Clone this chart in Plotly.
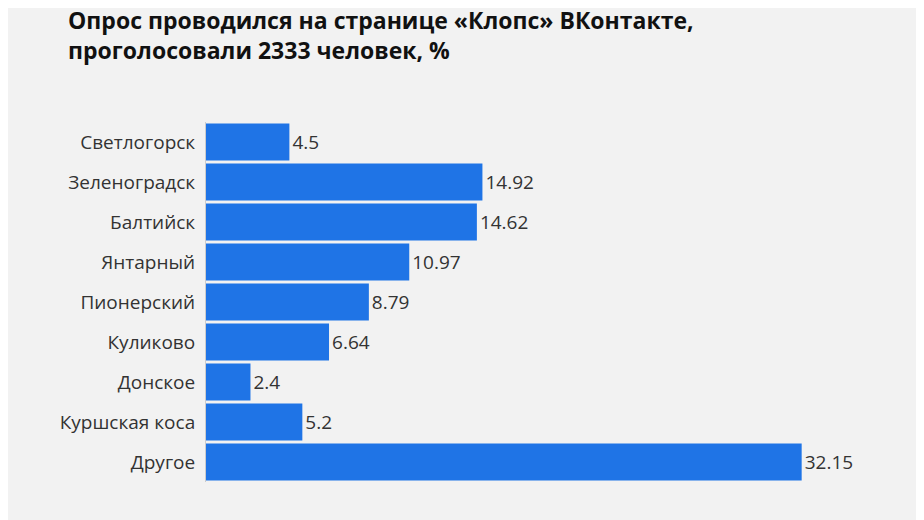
import plotly.graph_objects as go

categories = ["Светлогорск", "Зеленоградск", "Балтийск", "Янтарный", "Пионерский",
              "Куликово", "Донское", "Куршская коса", "Другое"]
values = [4.5, 14.92, 14.62, 10.97, 8.79, 6.64, 2.4, 5.2, 32.15]
labels = ["4.5", "14.92", "14.62", "10.97", "8.79", "6.64", "2.4", "5.2", "32.15"]

fig = go.Figure(go.Bar(
    x=values, y=categories, orientation="h",
    marker=dict(color="#1f74e6", line=dict(width=0)),
    text=labels, textposition="outside", cliponaxis=False,
    textfont=dict(size=19, color="#333333", family="Open Sans"),
))
fig.update_layout(
    width=924, height=520,
    paper_bgcolor="#f2f2f2", plot_bgcolor="#f2f2f2",
    margin=dict(l=198, r=59, t=114, b=46),
    bargap=0.07, showlegend=False,
    font=dict(family="Open Sans", size=19, color="#333333"),
    title=dict(text="<b>Опрос проводился на странице «Клопс» ВКонтакте,<br>проголосовали 2333 человек, %</b>",
               x=0.065, xanchor="left", y=0.96, yanchor="top",
               font=dict(size=23, color="#111111", family="Open Sans")),
)
fig.update_xaxes(range=[0, 36], visible=False)
fig.update_yaxes(autorange="reversed", showline=True, linecolor="#cccccc", linewidth=1,
                 ticks="", ticklabelstandoff=6, showgrid=False,
                 tickfont=dict(size=19, color="#333333"))
fig.write_html("out.html")
